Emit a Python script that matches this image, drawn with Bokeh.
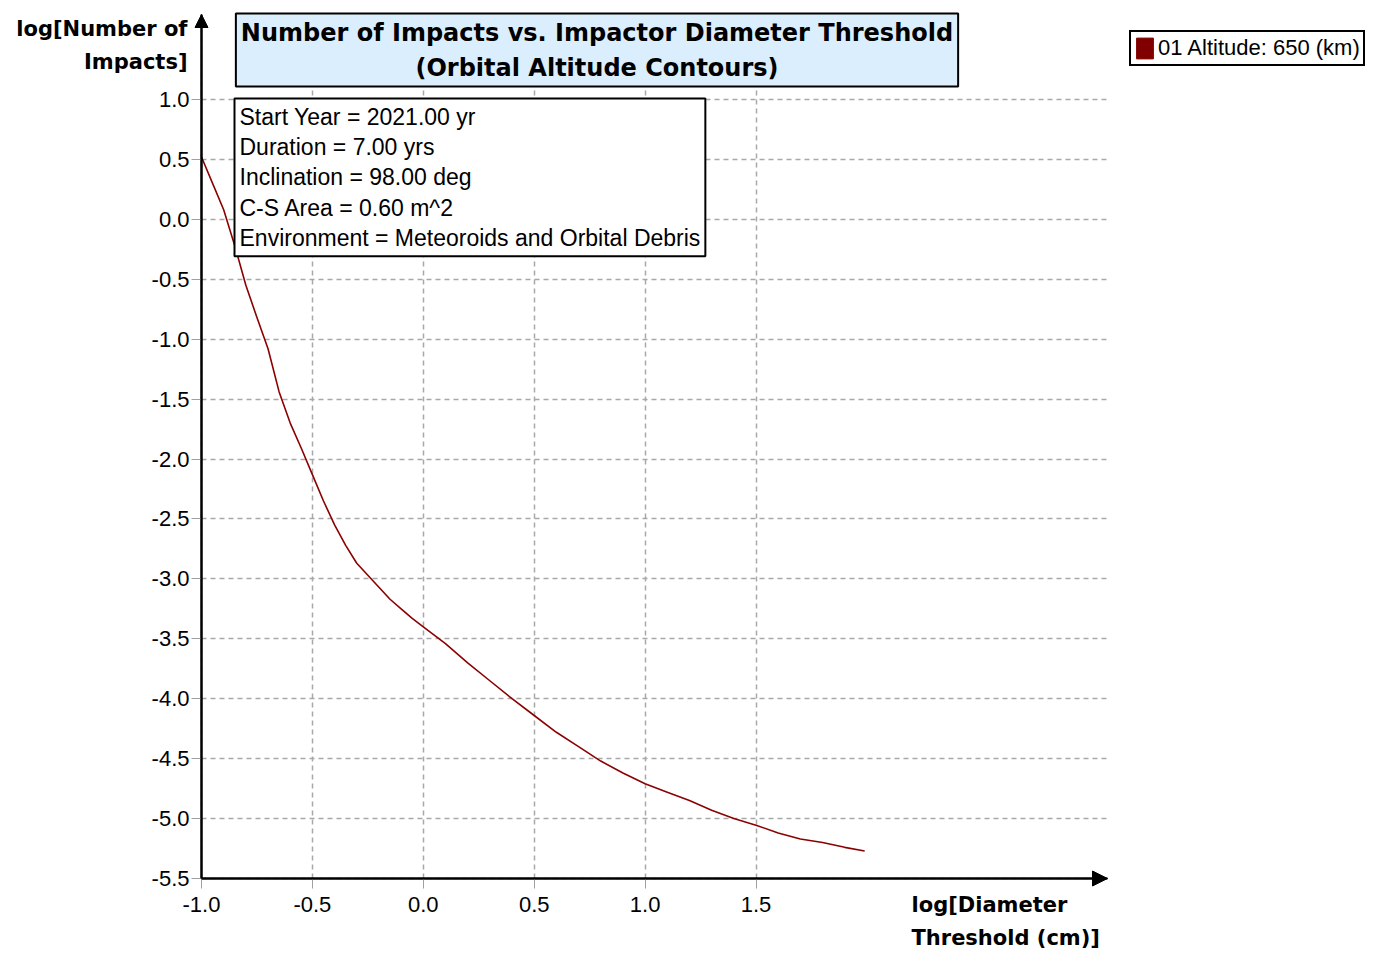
from bokeh.plotting import figure
from bokeh.models import (Range1d, FixedTicker, PrintfTickFormatter, Label, Legend,
                          LegendItem, Arrow, NormalHead)
from bokeh.embed import file_html
from bokeh.resources import INLINE

# ---------------- data ----------------
log_diameter = [-1.0, -0.95, -0.9, -0.85, -0.8, -0.75, -0.7, -0.65, -0.6, -0.55, -0.5,
                -0.45, -0.4, -0.35, -0.3, -0.25, -0.2, -0.15, -0.1, -0.05, 0.0,
                0.1, 0.2, 0.3, 0.4, 0.5, 0.6, 0.7, 0.8, 0.9, 1.0,
                1.1, 1.2, 1.3, 1.4, 1.5, 1.6, 1.7, 1.8, 1.9, 1.99]
log_impacts = [0.52, 0.30, 0.08, -0.22, -0.55, -0.82, -1.08, -1.44, -1.70, -1.91, -2.13,
               -2.35, -2.55, -2.72, -2.87, -2.97, -3.07, -3.17, -3.25, -3.33, -3.40,
               -3.54, -3.70, -3.85, -4.00, -4.14, -4.28, -4.40, -4.52, -4.62, -4.71,
               -4.78, -4.85, -4.93, -5.00, -5.055, -5.12, -5.17, -5.20, -5.24, -5.27]
series_name = "01 Altitude: 650 (km)"
series_color = "#800000"
title_text = "Number of Impacts vs. Impactor Diameter Threshold\n(Orbital Altitude Contours)"
info_lines = ["Start Year = 2021.00 yr", "Duration = 7.00 yrs", "Inclination = 98.00 deg",
              "C-S Area = 0.60 m^2", "Environment = Meteoroids and Orbital Debris"]
x_ticks = [-1.0, -0.5, 0.0, 0.5, 1.0, 1.5]
y_ticks = [1.0, 0.5, 0.0, -0.5, -1.0, -1.5, -2.0, -2.5, -3.0, -3.5, -4.0, -4.5, -5.0, -5.5]
x_label = "log[Diameter\nThreshold (cm)]"
y_label = "log[Number of\nImpacts]"

# ---------------- layout (canvas pixels) ----------------
W, H = 1376, 952
AX_L, AX_R, AX_T, AX_B = 201, 1107, 14, 878   # plot-area edges
XPU, YPU = 221.8, 119.85                        # px per data unit
x0, y0 = -1.0, -5.5


def px_x(px):
    return x0 + (px - AX_L) / XPU


def px_y(py):
    return y0 + (AX_B - py) / YPU


x_axis_end = px_x(AX_R)
y_axis_end = px_y(AX_T)

p = figure(width=W, height=H, min_border=0,
           x_range=Range1d(px_x(0), px_x(W)), y_range=Range1d(px_y(H), px_y(0)),
           output_backend="svg", toolbar_location=None)
p.outline_line_color = None
p.background_fill_color = "white"
p.border_fill_color = "white"

p.xaxis.fixed_location = y0
p.xaxis.bounds = (x0, x_axis_end)
p.yaxis.fixed_location = x0
p.yaxis.bounds = (y0, y_axis_end)

for ax, ticks in ((p.xaxis, x_ticks), (p.yaxis, y_ticks)):
    ax.ticker = FixedTicker(ticks=ticks)
    ax.formatter = PrintfTickFormatter(format="%.1f")
    ax.major_label_text_font = "Liberation Sans"
    ax.major_label_text_font_size = "22px"
    ax.major_label_text_color = "black"
    ax.axis_line_width = 2
    ax.axis_line_color = "black"
    ax.major_tick_in = 0
    ax.major_tick_out = 10
    ax.major_tick_line_color = "#a0a0a0"
    ax.major_tick_line_width = 1
    ax.minor_tick_line_color = None
p.xaxis.major_label_standoff = 8
p.yaxis.major_label_standoff = 2

p.xgrid.ticker = FixedTicker(ticks=x_ticks)
p.ygrid.ticker = FixedTicker(ticks=y_ticks)
p.xgrid.cross_bounds = (y0, y_axis_end)
p.ygrid.cross_bounds = (x0, x_axis_end)
for g in (p.xgrid, p.ygrid):
    g.grid_line_color = "#a8a8a8"
    g.grid_line_dash = "5 4"
    g.grid_line_width = 1.5

# axis arrows
p.add_layout(Arrow(end=NormalHead(size=15, fill_color="black", line_color="black"),
                   x_start=x0, y_start=y0, x_end=x_axis_end, y_end=y0,
                   line_width=2, line_color="black"))
p.add_layout(Arrow(end=NormalHead(size=13, fill_color="black", line_color="black"),
                   x_start=x0, y_start=y0, x_end=x0, y_end=y_axis_end,
                   line_width=2, line_color="black"))

# data curve
p.line(log_diameter, log_impacts, line_color="#8b0000", line_width=1.6)

# legend (square swatch; the swatch renderer itself draws nothing in the plot)
nan = float("nan")
swatch = p.quad(left=[nan], right=[nan], top=[nan], bottom=[nan],
                fill_color=series_color, line_color=series_color)
legend = Legend(items=[LegendItem(label=series_name, renderers=[swatch])],
                location=(1129, H - 66), margin=0, padding=3, spacing=0,
                label_standoff=3, glyph_width=21, glyph_height=26,
                label_text_font="Liberation Sans", label_text_font_size="22px",
                label_text_color="black",
                border_line_color="black", border_line_width=2, border_line_alpha=1.0,
                background_fill_color="white", background_fill_alpha=1)
p.add_layout(legend)

# title box
p.add_layout(Label(x=px_x(596.5), y=px_y(13), text=title_text, text_align="center",
                   text_baseline="top", padding=5, background_fill_color="#dbeefd",
                   border_line_color="black", border_line_width=2,
                   text_font="DejaVu Sans", text_font_style="bold",
                   text_font_size="24px", text_line_height=1.25, text_color="black"))

# info box
p.add_layout(Label(x=px_x(234), y=px_y(98), text="\n".join(info_lines), text_align="left",
                   text_baseline="top", padding=5, background_fill_color="white",
                   border_line_color="black", border_line_width=2,
                   text_font="Liberation Sans", text_font_size="23px",
                   text_line_height=1.17, text_color="black"))

# axis titles
p.add_layout(Label(x=px_x(187), y=px_y(16), text=y_label, text_align="right",
                   text_baseline="top", text_font="DejaVu Sans", text_font_style="bold",
                   text_font_size="21px", text_line_height=1.38, text_color="black"))
p.add_layout(Label(x=px_x(911), y=px_y(892), text=x_label, text_align="left",
                   text_baseline="top", text_font="DejaVu Sans", text_font_style="bold",
                   text_font_size="21px", text_line_height=1.38, text_color="black"))

open("out.html", "w").write(file_html(p, INLINE))
